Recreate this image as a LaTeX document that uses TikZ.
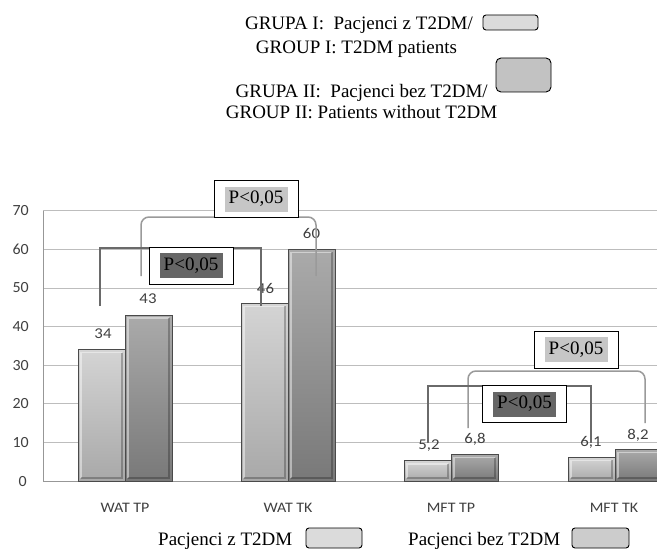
\documentclass[tikz,border=0pt]{standalone}
\usepackage{fontspec}
\setmainfont{Liberation Serif}
\newfontfamily\calib{Carlito}
\definecolor{gridc}{HTML}{BDBDBD}
\definecolor{lightbar}{HTML}{C6C6C6}
\definecolor{darkbar}{HTML}{8E8E8E}
\definecolor{barline}{HTML}{4A4A4A}
\definecolor{pl}{HTML}{C6C6C6}
\definecolor{pd}{HTML}{666666}
\definecolor{brl}{HTML}{9A9A9A}
\definecolor{brd}{HTML}{6A6A6A}
\definecolor{valc}{HTML}{404040}
\begin{document}
\begin{tikzpicture}[x=1pt,y=-1pt,
  legtxt/.style={font=\fontsize{19}{22}\selectfont, text=black, inner sep=0pt, anchor=base},
  legbox/.style={draw=black, line width=0.9pt, rounded corners=3pt},
  valtxt/.style={font=\calib\fontsize{15}{17}\selectfont, text=valc, inner sep=0pt, xscale=1.12},
  axtxt/.style={font=\calib\fontsize{15.5}{17}\selectfont, text=valc, inner sep=0pt, anchor=east, xscale=1.03},
  cattxt/.style={font=\calib\fontsize{14.5}{16}\selectfont, text=valc, inner sep=0pt, xscale=1.1},
  pbox/.style={draw=black, line width=1pt, fill=white, minimum width=84pt, minimum height=37pt, inner sep=0pt},
  ptxt/.style={font=\fontsize{19}{22}\selectfont, text=black, inner sep=0pt, minimum width=63pt, minimum height=25pt},
  lightbr/.style={draw=brl, line width=1.5pt, rounded corners=8pt},
  darkbr/.style={draw=brd, line width=1.5pt},
]
\useasboundingbox (0,0) rectangle (657,551);
\fill[white] (0,0) rectangle (657,551);

% gridlines
\foreach \v in {10,20,...,70} {
  \draw[gridc, line width=0.8pt] (43,{481-\v*3.86}) -- (657,{481-\v*3.86});
}
\draw[gridc!80!black, line width=0.8pt] (43,{481-70*3.86}) -- (43,481) -- (657,481);
% axis labels
\foreach \v in {10,20,...,70} {
  \node[axtxt] at (29,{481-\v*3.86}) {\v};
}
\node[axtxt] (a0) at (27,482) {0};

% bars
\newcommand\mybar[3]{%
  \shade[top color=#3!75!white, bottom color=#3!85!black, draw=barline, line width=0.9pt]
    (#1,481) rectangle ({#1+47},{481-#2*3.86});
  \draw[white, opacity=0.45, line width=1.2pt] ({#1+3},478) -- ({#1+3},{481-#2*3.86+3}) -- ({#1+44},{481-#2*3.86+3});
  \draw[black, opacity=0.25, line width=1.2pt] ({#1+44},{481-#2*3.86+3}) -- ({#1+44},478) -- ({#1+3},478);
}
\mybar{78}{34}{lightbar}
\mybar{125}{43}{darkbar}
\mybar{241}{46}{lightbar}
\mybar{288}{60}{darkbar}
\mybar{404}{5.2}{lightbar}
\mybar{451}{6.8}{darkbar}
\mybar{568}{6.1}{lightbar}
\mybar{615}{8.2}{darkbar}

% value labels
\node[valtxt] (v1) at (103,334) {34};
\node[valtxt] (v2) at (148,299) {43};
\node[valtxt] (v3) at (265.5,288) {46};
\node[valtxt] (v4) at (311.5,233) {60};
\node[valtxt] (v5) at (429,446) {5,2};
\node[valtxt] (v6) at (475,439) {6,8};
\node[valtxt] (v7) at (591,442) {6,1};
\node[valtxt] (v8) at (638,435) {8,2};

% category labels
\node[cattxt] (c1) at (125,508) {WAT TP};
\node[cattxt] (c2) at (288,508) {WAT TK};
\node[cattxt] (c3) at (451,508) {MFT TP};
\node[cattxt] (c4) at (614,508) {MFT TK};

% brackets WAT
\coordinate (wl1) at (141,276);
\coordinate (wl2) at (316,276);
\coordinate (wd1) at (100,306);
\coordinate (wd2) at (261,306);
\draw[lightbr] (wl1) -- (wl1 |- 0,217) -- (wl2 |- 0,217) -- (wl2);
\draw[darkbr] (wd1) -- (wd1 |- 0,248) -- (wd2 |- 0,248) -- (wd2);
% brackets MFT
\coordinate (ml1) at (468,428);
\coordinate (ml2) at (645,423);
\coordinate (md1) at (428,443);
\coordinate (md2) at (591,443);
\draw[lightbr] (ml1) -- (ml1 |- 0,371) -- (ml2 |- 0,371) -- (ml2);
\draw[darkbr] (md1) -- (md1 |- 0,386) -- (md2 |- 0,386) -- (md2);

% P boxes
\node[pbox] (pw1) at (256,199) {};
\node[ptxt, fill=pl] at (pw1) {P<0,05};
\node[pbox] (pw2) at (191,265.5) {};
\node[ptxt, fill=pd] at (pw2) {P<0,05};
\node[pbox] (pm1) at (576,349.5) {};
\node[ptxt, fill=pl] at (pm1) {P<0,05};
\node[pbox] (pm2) at (524.5,404) {};
\node[ptxt, fill=pd] at (pm2) {P<0,05};

% top legend
\node[legtxt] (t1) at (359,29.3) {GRUPA I:\ \ Pacjenci z T2DM/};
\node[legtxt] (t2) at (356.5,54) {GROUP I: T2DM patients};
\node[legtxt] (t3) at (361.7,97.7) {GRUPA II:\ \ Pacjenci bez T2DM/};
\node[legtxt] (t4) at (361.5,118.3) {GROUP II: Patients without T2DM};
\draw[legbox, fill=black!14] (483,15) rectangle (538,30);
\draw[legbox, fill=black!24, rounded corners=5pt] (496,58) rectangle (551,92);

% bottom legend
\node[legtxt, anchor=base west] (b1) at (158,545) {Pacjenci z T2DM};
\draw[legbox, fill=black!14] (306,528) rectangle (362,548);
\node[legtxt, anchor=base west] (b2) at (408,545) {Pacjenci bez T2DM};
\draw[legbox, fill=black!20] (572,528) rectangle (629,548);
\end{tikzpicture}
\end{document}
